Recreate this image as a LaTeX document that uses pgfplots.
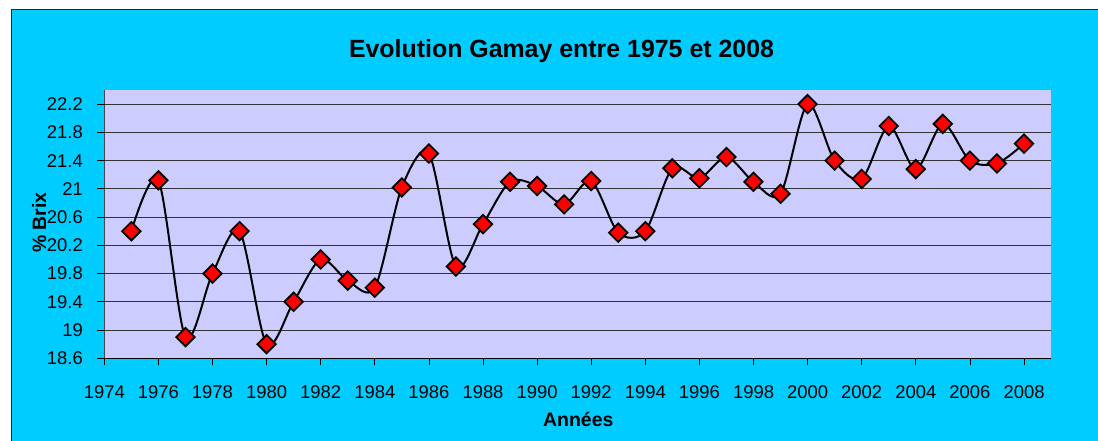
\documentclass[border=0pt]{standalone}
\usepackage{pgfplots}
\pgfplotsset{compat=1.18}
\usepackage{fontspec}
\setmainfont{Liberation Sans}
\definecolor{bgcyan}{HTML}{00CCFF}
\definecolor{plotbg}{HTML}{CCCCFF}
\begin{document}
\begin{tikzpicture}[x=1bp,y=1bp]
\useasboundingbox (0,0) rectangle (1098,441);
\fill[white] (0,0) rectangle (1098,441);
\fill[bgcyan] (11.5,0) rectangle (1098,431.5);
\draw[line width=1.3bp, black!85] (11.5,0) -- (11.5,431.5) -- (1098,431.5);
\begin{axis}[
  at={(104.3bp,82.7bp)}, anchor=south west,
  width=946.7bp, height=268.3bp, scale only axis,
  xmin=1974, xmax=2009, ymin=18.6, ymax=22.4,
  xtick={1974,1976,...,2008},
  ytick={18.6,19,19.4,19.8,20.2,20.6,21,21.4,21.8,22.2},
  yticklabels={18.6,19,19.4,19.8,20.2,20.6,21,21.4,21.8,22.2},
  tick pos=left, tick align=outside, major tick length=7bp,
  ymajorgrids, grid style={black!80, line width=0.8bp},
  axis line style={draw=none},
  axis background/.style={fill=plotbg},
  tick style={black, line width=0.8bp},
  tick label style={font=\fontsize{18.5}{20}\selectfont},
  /pgf/number format/assume math mode=true,
  x tick label style={/pgf/number format/1000 sep={}, yshift=-17bp},
  y tick label style={xshift=-11bp},
]
\draw[black, line width=1bp] (rel axis cs:0,1) -- (rel axis cs:0,0) -- (rel axis cs:1,0);
\addplot[black, line width=2bp, smooth, tension=0.5,
  mark=square*, mark size=6.5bp,
  mark options={rotate=45, fill=red, draw=black, line width=1.8bp, solid}]
coordinates {
(1975,20.4) (1976,21.12) (1977,18.9) (1978,19.8) (1979,20.4)
(1980,18.8) (1981,19.4) (1982,20.0) (1983,19.7) (1984,19.6)
(1985,21.02) (1986,21.5) (1987,19.9) (1988,20.5) (1989,21.1)
(1990,21.04) (1991,20.78) (1992,21.11) (1993,20.38) (1994,20.4)
(1995,21.29) (1996,21.15) (1997,21.45) (1998,21.1) (1999,20.93)
(2000,22.2) (2001,21.4) (2002,21.14) (2003,21.89) (2004,21.28)
(2005,21.92) (2006,21.4) (2007,21.36) (2008,21.64)
};
\end{axis}
\node[font=\fontsize{25}{30}\bfseries\selectfont, anchor=base] at (561.5,383) {Evolution Gamay entre 1975 et 2008};
\node[font=\fontsize{19.5}{22}\bfseries\selectfont, anchor=base] at (578.3,14.3) {Années};
\node[font=\fontsize{19.5}{22}\bfseries\selectfont, anchor=base, rotate=90] at (46,218.5) {\% Brix};
\end{tikzpicture}
\end{document}
